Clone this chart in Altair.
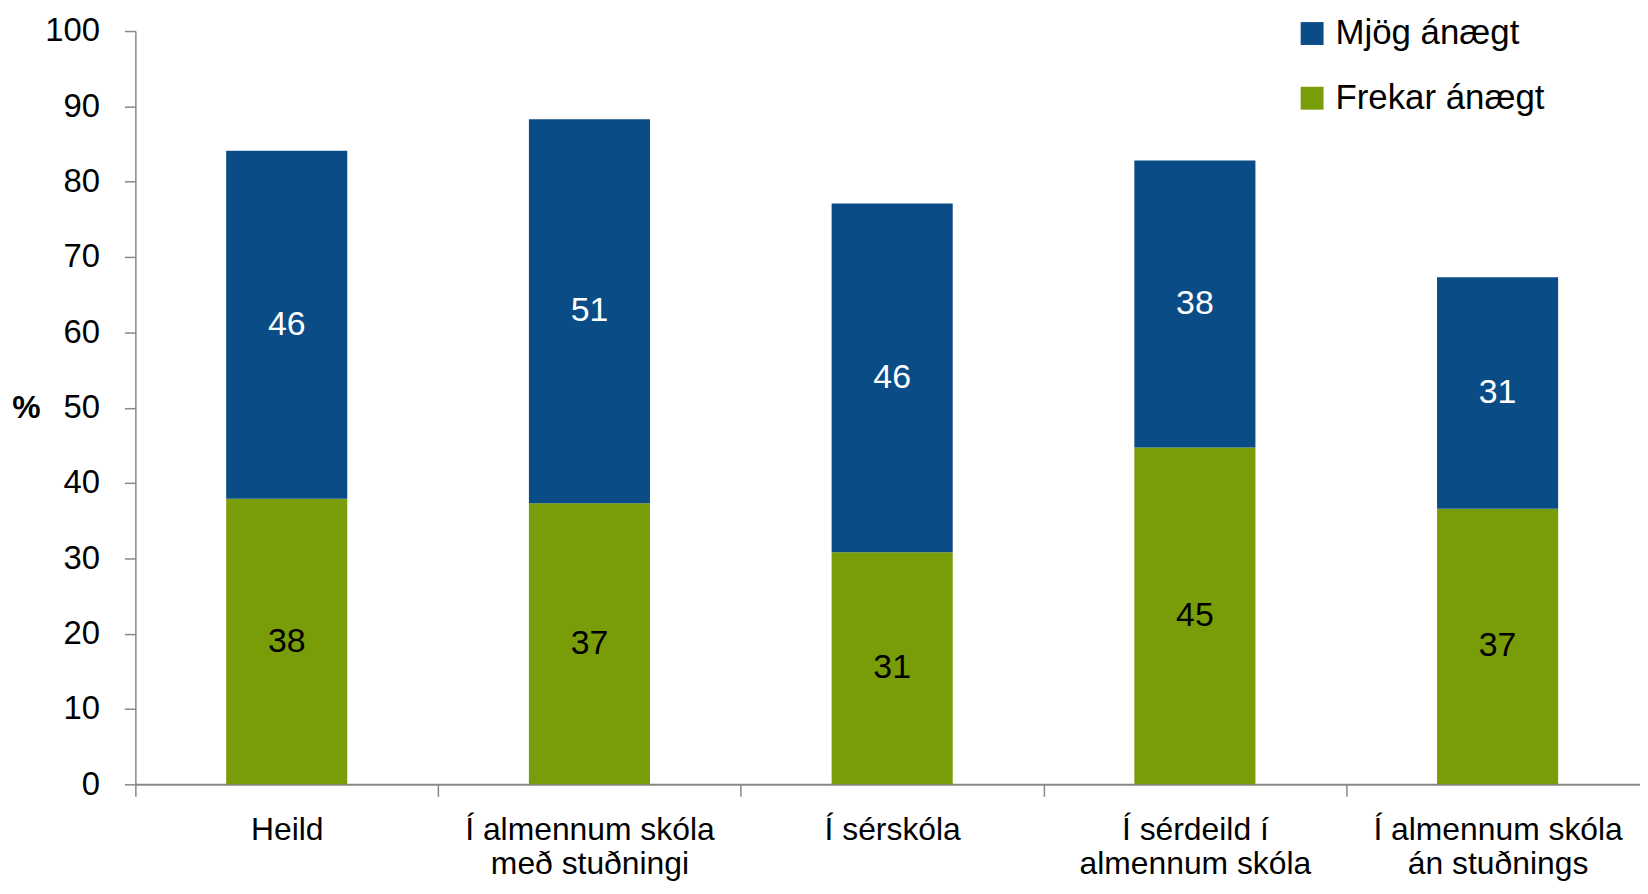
import altair as alt
import pandas as pd

categories = [
    "Heild",
    "Í almennum skóla|með stuðningi",
    "Í sérskóla",
    "Í sérdeild í|almennum skóla",
    "Í almennum skóla|án stuðnings",
]
frekar = [37.9, 37.3, 30.8, 44.7, 36.6]
mjog = [46.2, 51.0, 46.3, 38.1, 30.7]
series = ["Mjög ánægt", "Frekar ánægt"]
colors = ["#0A4C86", "#799D08"]
label_colors = ["#FFFFFF", "#000000"]
y_ticks = list(range(0, 101, 10))

rows = []
for i, c in enumerate(categories):
    rows.append({"cat": c, "series": "Frekar ánægt", "value": frekar[i], "order": 0})
    rows.append({"cat": c, "series": "Mjög ánægt", "value": mjog[i], "order": 1})
df = pd.DataFrame(rows)

FONT = "Liberation Sans, Arial, sans-serif"

base = alt.Chart(df).transform_stack(
    stack="value", groupby=["cat"], as_=["v0", "v1"], sort=[alt.SortField("order")]
).transform_calculate(
    mid="(datum.v0 + datum.v1) / 2", label="format(datum.value, '.0f')"
)

x = alt.X(
    "cat:N",
    sort=categories,
    scale=alt.Scale(paddingInner=0, paddingOuter=0, range=[0, 1521]),
    axis=alt.Axis(
        title=None,
        labelAngle=0,
        labelExpr="split(datum.label, '|')",
        tickBand="extent",
        tickSize=12,
        labelPadding=18,
        labelFontSize=32,
        labelLineHeight=35,
        labelColor="#000000",
        labelFont=FONT,
        labelLimit=400,
        domainColor="#888888",
        tickColor="#888888",
        domainWidth=2,
        tickWidth=1.5,
    ),
)

bars = base.mark_bar(width=alt.RelativeBandSize(0.4)).encode(
    x=x,
    y=alt.Y(
        "v0:Q",
        scale=alt.Scale(domain=[0, 100], nice=False),
        axis=alt.Axis(
            values=y_ticks,
            title="%",
            titleAngle=0,
            titleFont=FONT,
            titleFontSize=32,
            titleFontWeight="bold",
            titleColor="#000000",
            titleX=-110,
            titleY=378,
            titleAlign="center",
            titleBaseline="middle",
            grid=False,
            tickSize=11,
            labelPadding=25,
            labelFontSize=33,
            labelFont=FONT,
            labelColor="#000000",
            domainColor="#888888",
            tickColor="#888888",
            domainWidth=1.5,
            tickWidth=1.5,
        ),
    ),
    y2="v1:Q",
    color=alt.Color(
        "series:N",
        scale=alt.Scale(domain=series, range=colors),
        legend=alt.Legend(
            title=None,
            orient="none",
            legendX=1165,
            legendY=-15,
            symbolType="square",
            symbolSize=529,
            symbolStrokeWidth=0,
            labelFontSize=35,
            labelFont=FONT,
            labelColor="#000000",
            labelOffset=6,
            rowPadding=29,
            labelLimit=400,
        ),
    ),
)

text = base.mark_text(font=FONT, fontSize=34, baseline="middle").encode(
    x=alt.X("cat:N", sort=categories),
    y=alt.Y("mid:Q"),
    text="label:N",
    color=alt.Color(
        "series:N", scale=alt.Scale(domain=series, range=label_colors), legend=None
    ),
)

chart = (
    alt.layer(bars, text)
    .resolve_scale(color="independent")
    .properties(
        width=1512,
        height=757,
        padding={"left": 128, "top": 21, "right": 0, "bottom": 100},
        autosize=alt.AutoSizeParams(type="none"),
    )
    .configure_view(stroke=None)
)

chart.save("out.html", embed_options={"renderer": "svg", "actions": False})
